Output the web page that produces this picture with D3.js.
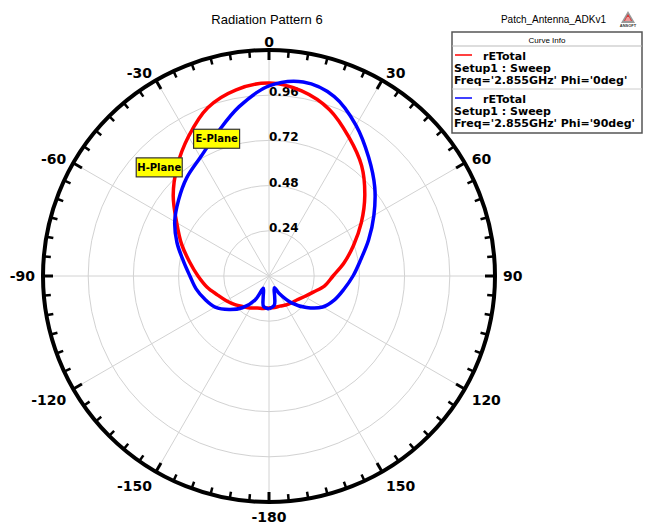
<!DOCTYPE html>
<html>
<head>
<meta charset="UTF-8">
<title>Radiation Pattern 6</title>
<script src="https://d3js.org/d3.v7.min.js"></script>
<style>
    body { margin: 0; background: #fff; }
    .grid { fill: none; stroke: #d2d2d2; stroke-width: 1; }
    .ang-label { font: bold 14px "DejaVu Sans", Verdana, sans-serif; fill: #000; }
    .ring-label { font: bold 12px "DejaVu Sans", Verdana, sans-serif; fill: #000; }
    .curve { fill: none; stroke-width: 3.5; stroke-linejoin: round; }
    .legend text { font: bold 11px "DejaVu Sans", Verdana, sans-serif; fill: #000; }
    .tag text { font: bold 10px "DejaVu Sans", Verdana, sans-serif; fill: #000; }
</style>
</head>
<body>
<svg id="chart" width="649" height="525"></svg>
<script>
// rETotal, Phi = 0deg (H-Plane), theta in degrees
var hTheta = [-180, -170, -160, -150, -140, -130, -120, -110, -100, -90, -80, -70, -60, -50, -40, -30, -20, -10,
    0, 10, 20, 30, 40, 50, 60, 70, 80, 90, 100, 110, 120, 130, 140, 150, 160, 170, 180];
var hPlane = [0.170, 0.175, 0.181, 0.196, 0.212, 0.236, 0.262, 0.292, 0.335, 0.377, 0.428, 0.494, 0.566, 0.664, 0.759, 0.855, 0.951, 1.004,
    1.025, 0.998, 0.940, 0.850, 0.765, 0.664, 0.566, 0.478, 0.405, 0.340, 0.300, 0.250, 0.218, 0.196, 0.186, 0.178, 0.170, 0.170, 0.170];

// rETotal, Phi = 90deg (E-Plane)
var eTheta = [-180, -170, -165, -160, -155, -150, -140, -130, -120, -110, -100, -90, -80, -70, -60, -50, -40, -30, -20, -10,
    0, 10, 20, 30, 40, 50, 60, 70, 80, 90, 100, 110, 120, 130, 140, 150, 155, 160, 165, 170, 180];
var ePlane = [0.175, 0.165, 0.120, 0.085, 0.072, 0.145, 0.220, 0.277, 0.330, 0.362, 0.393, 0.420, 0.462, 0.520, 0.578, 0.627, 0.680, 0.728, 0.807, 0.913,
    1.009, 1.046, 1.014, 0.924, 0.823, 0.733, 0.643, 0.563, 0.494, 0.446, 0.404, 0.370, 0.329, 0.260, 0.186, 0.106, 0.069, 0.080, 0.117, 0.159, 0.175];

var ringTicks = [0.24, 0.48, 0.72, 0.96];
var angleTicks = [0, 30, 60, 90, 120, 150, -180, -150, -120, -90, -60, -30];

var seriesColors = ["#ff0000", "#0000ff"];
var seriesNames = ["rETotal", "rETotal"];
var seriesSetups = ["Setup1 : Sweep", "Setup1 : Sweep"];
var seriesFreqs = ["Freq='2.855GHz' Phi='0deg'", "Freq='2.855GHz' Phi='90deg'"];

// curve tags: text, angle, radius value
var tagNames = ["E-Plane", "H-Plane"];
var tagTheta = [-20.9, -45.3];
var tagValue = [0.78, 0.82];

var svg = d3.select("#chart"),
    cx = 269, cy = 276, R = 226;

var r = d3.scaleLinear().domain([0, 1.2]).range([0, R]);
var rad = function (d) { return d * Math.PI / 180; };
function px(a, v) { return cx + r(v) * Math.sin(rad(a)); }
function py(a, v) { return cy - r(v) * Math.cos(rad(a)); }

svg.append("text")
    .attr("x", 267).attr("y", 24)
    .attr("text-anchor", "middle")
    .style("font", "13px 'Liberation Sans', Arial, sans-serif")
    .text("Radiation Pattern 6");

svg.append("text")
    .attr("x", 606).attr("y", 23)
    .attr("text-anchor", "end")
    .style("font", "10px 'Liberation Sans', Arial, sans-serif")
    .text("Patch_Antenna_ADKv1");

// little logo
var logo = svg.append("g").attr("transform", "translate(628,11)");
logo.append("path").attr("d", "M0,0 L7,12 L-7,12 Z").attr("fill", "#999");
logo.append("path").attr("d", "M0,3 L4,10 L-4,10 Z").attr("fill", "#d33");
logo.append("path").attr("d", "M-1,6 L1,6 L3,10 L-3,10 Z").attr("fill", "#fff").attr("opacity", 0.5);
logo.append("text").attr("x", 0).attr("y", 16).attr("text-anchor", "middle")
    .style("font", "bold 4px 'Liberation Sans', Arial, sans-serif").attr("fill", "#333").text("ANSOFT");

var g = svg.append("g").attr("transform", "translate(" + cx + "," + cy + ")");

// grid rings and spokes
g.selectAll(".ring").data(ringTicks).enter().append("circle")
    .attr("class", "grid").attr("r", function (d) { return r(d); });

g.selectAll(".spoke").data(d3.range(0, 360, 30)).enter().append("line")
    .attr("class", "grid")
    .attr("x1", 0).attr("y1", 0)
    .attr("x2", function (d) { return R * Math.sin(rad(d)); })
    .attr("y2", function (d) { return -R * Math.cos(rad(d)); });

g.selectAll(".ring-label").data(ringTicks).enter().append("text")
    .attr("class", "ring-label")
    .attr("x", 0).attr("y", function (d) { return -r(d) + 1; })
    .text(function (d) { return d.toFixed(2); });

// curves
var line = d3.lineRadial().curve(d3.curveCatmullRom.alpha(0.5));
var curves = [[hTheta, hPlane], [eTheta, ePlane]];
curves.forEach(function (c, i) {
    var pts = c[0].map(function (a, k) { return [rad(a), r(c[1][k])]; });
    g.append("path").attr("class", "curve")
        .attr("stroke", seriesColors[i])
        .attr("d", line(pts));
});

// outer circle and ticks
g.append("circle").attr("r", R).attr("fill", "none").attr("stroke", "#000").attr("stroke-width", 4);

g.selectAll(".tick").data(d3.range(0, 360, 5)).enter().append("line")
    .attr("stroke", "#000")
    .attr("stroke-width", function (d) { return d % 30 === 0 ? 3 : 2.5; })
    .attr("x1", function (d) { return (R - 1) * Math.sin(rad(d)); })
    .attr("y1", function (d) { return -(R - 1) * Math.cos(rad(d)); })
    .attr("x2", function (d) { var l = d % 30 === 0 ? 10 : 7; return (R - l) * Math.sin(rad(d)); })
    .attr("y2", function (d) { var l = d % 30 === 0 ? 10 : 7; return -(R - l) * Math.cos(rad(d)); });

g.selectAll(".ang-label").data(angleTicks).enter().append("text")
    .attr("class", "ang-label")
    .attr("x", function (d) { return (R + 8) * Math.sin(rad(d)); })
    .attr("y", function (d) { return -(R + 8) * Math.cos(rad(d)); })
    .attr("text-anchor", function (d) {
        var s = Math.sin(rad(d));
        return s > 0.01 ? "start" : (s < -0.01 ? "end" : "middle");
    })
    .attr("dy", function (d) { return Math.cos(rad(d)) < -0.01 ? "0.85em" : "0.36em"; })
    .text(function (d) { return d; });

// curve tags
tagNames.forEach(function (t, i) {
    var tg = svg.append("g").attr("class", "tag")
        .attr("transform", "translate(" + px(tagTheta[i], tagValue[i]) + "," + py(tagTheta[i], tagValue[i]) + ")");
    tg.append("rect").attr("x", -23).attr("y", -9.5).attr("width", 46).attr("height", 19)
        .attr("fill", "#ffff00").attr("stroke", "#333").attr("stroke-width", 1.2);
    tg.append("text").attr("text-anchor", "middle").attr("dy", "0.35em").text(t);
});

// legend
var lg = svg.append("g").attr("class", "legend").attr("transform", "translate(452,32)");
lg.append("rect").attr("width", 190).attr("height", 101)
    .attr("fill", "#fff").attr("stroke", "#555").attr("stroke-width", 1.5);
lg.append("text").attr("x", 95).attr("y", 11).attr("text-anchor", "middle")
    .style("font", "8px 'Liberation Sans', Arial, sans-serif").text("Curve Info");
lg.append("line").attr("x1", 0).attr("x2", 190).attr("y1", 14).attr("y2", 14).attr("stroke", "#bbb");
seriesNames.forEach(function (n, i) {
    var y0 = 14 + i * 43;
    lg.append("line").attr("x1", 3).attr("x2", 20).attr("y1", y0 + 9).attr("y2", y0 + 9)
        .attr("stroke", seriesColors[i]).attr("stroke-width", 1.5);
    lg.append("text").attr("x", 31).attr("y", y0 + 14).text(n);
    lg.append("text").attr("x", 2).attr("y", y0 + 26).text(seriesSetups[i]);
    lg.append("text").attr("x", 2).attr("y", y0 + 38).text(seriesFreqs[i]);
    if (i === 0) lg.append("line").attr("x1", 0).attr("x2", 190).attr("y1", y0 + 43).attr("y2", y0 + 43).attr("stroke", "#ccc");
});
</script>
</body>
</html>
